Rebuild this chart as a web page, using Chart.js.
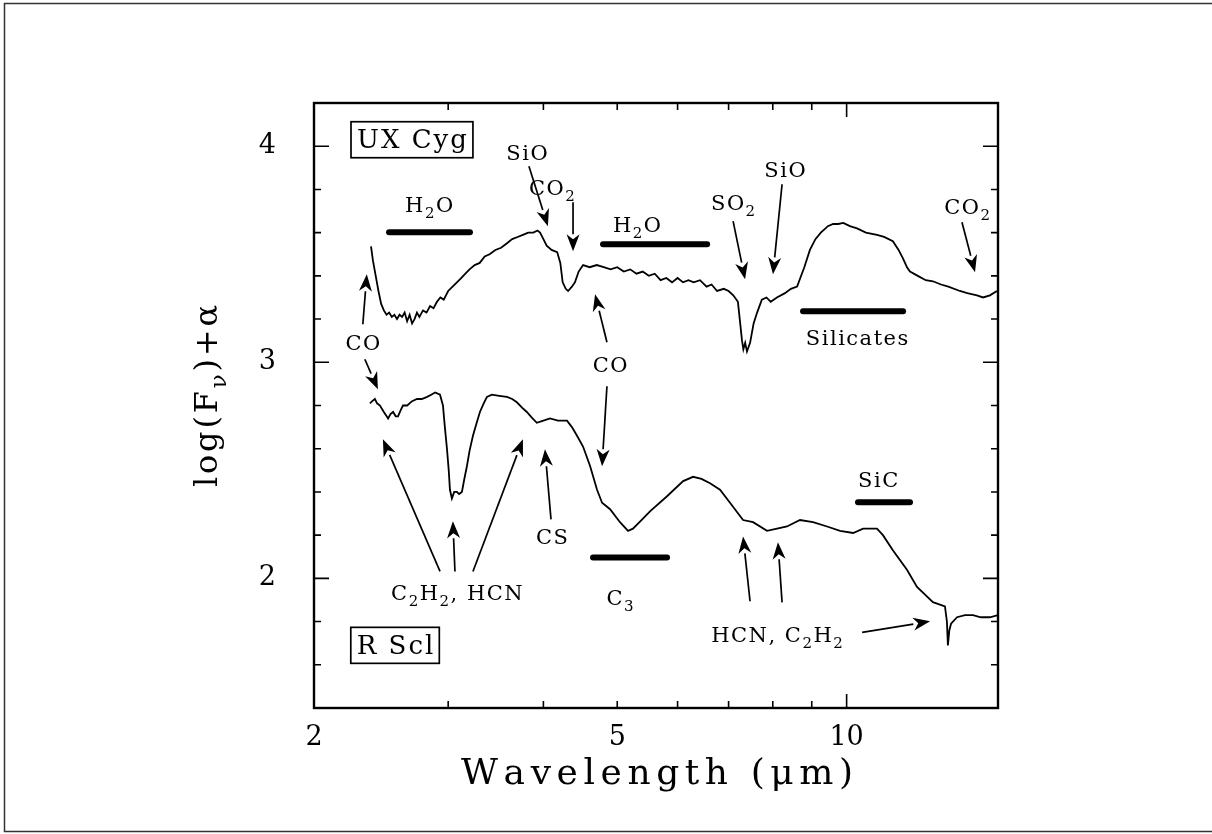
<!DOCTYPE html>
<html>
<head>
<meta charset="utf-8">
<title>UX Cyg / R Scl spectra</title>
<script src="https://cdn.jsdelivr.net/npm/chart.js@4.4.1/dist/chart.umd.min.js"></script>
<style>
  html, body { margin: 0; padding: 0; background: #fff; }
  #wrap { width: 1212px; height: 834px; }
</style>
</head>
<body>
<div id="wrap"><canvas id="spectra" width="1212" height="834"></canvas></div>
<script>
// UX Cyg (upper spectrum): wavelength (um) and log(F_nu)+alpha
const uxWave = [2.376, 2.39, 2.41, 2.43, 2.45, 2.47, 2.49, 2.51, 2.53, 2.55, 2.57, 2.59, 2.61, 2.63, 2.65,
  2.67, 2.69, 2.71, 2.73, 2.75, 2.78, 2.81, 2.84, 2.87, 2.90, 2.93, 2.96, 3.00, 3.04, 3.08, 3.12, 3.16,
  3.20, 3.25, 3.30, 3.35, 3.40, 3.46, 3.52, 3.58, 3.64, 3.70, 3.76, 3.82, 3.88, 3.93, 3.96, 4.00, 4.04,
  4.10, 4.17, 4.21, 4.24, 4.28, 4.31, 4.36, 4.40, 4.45, 4.51, 4.60, 4.70, 4.80, 4.90, 5.00, 5.10, 5.20,
  5.30, 5.40, 5.50, 5.60, 5.70, 5.80, 5.90, 6.00, 6.10, 6.20, 6.30, 6.42, 6.55, 6.65, 6.76, 6.90, 7.00,
  7.10, 7.20, 7.25, 7.29, 7.32, 7.36, 7.40, 7.47, 7.55, 7.63, 7.74, 7.85, 7.95, 8.10, 8.30, 8.45, 8.61,
  8.80, 8.95, 9.10, 9.25, 9.45, 9.60, 9.75, 9.90, 10.10, 10.32, 10.60, 10.96, 11.20, 11.50, 11.70,
  11.86, 12.00, 12.11, 12.40, 12.70, 12.98, 13.30, 13.60, 14.08, 14.40, 14.83, 15.10, 15.42, 15.75];
const uxFlux = [3.537, 3.47, 3.40, 3.33, 3.27, 3.24, 3.22, 3.23, 3.21, 3.22, 3.20, 3.22, 3.21, 3.23, 3.19,
  3.22, 3.18, 3.20, 3.23, 3.21, 3.24, 3.23, 3.26, 3.25, 3.28, 3.30, 3.29, 3.33, 3.35, 3.37, 3.39, 3.41,
  3.43, 3.45, 3.46, 3.49, 3.50, 3.52, 3.53, 3.55, 3.57, 3.58, 3.59, 3.60, 3.60, 3.61, 3.60, 3.57, 3.54,
  3.52, 3.51, 3.46, 3.37, 3.34, 3.33, 3.35, 3.37, 3.42, 3.45, 3.44, 3.45, 3.44, 3.43, 3.44, 3.42, 3.43,
  3.41, 3.42, 3.40, 3.41, 3.38, 3.39, 3.37, 3.39, 3.37, 3.38, 3.37, 3.38, 3.35, 3.36, 3.33, 3.34, 3.33,
  3.31, 3.28, 3.18, 3.10, 3.06, 3.09, 3.05, 3.09, 3.18, 3.23, 3.29, 3.30, 3.28, 3.30, 3.32, 3.34, 3.35,
  3.44, 3.52, 3.57, 3.60, 3.63, 3.64, 3.64, 3.645, 3.63, 3.62, 3.60, 3.59, 3.58, 3.56, 3.52,
  3.48, 3.44, 3.42, 3.40, 3.38, 3.375, 3.36, 3.35, 3.33, 3.32, 3.31, 3.30, 3.31, 3.33];

// R Scl (lower spectrum)
const rsWave = [2.368, 2.385, 2.404, 2.42, 2.441, 2.47, 2.502, 2.52, 2.540, 2.56, 2.578, 2.60, 2.617,
  2.65, 2.69, 2.730, 2.77, 2.815, 2.85, 2.884, 2.927, 2.953, 2.97, 2.989, 3.005, 3.016, 3.034, 3.055,
  3.080, 3.10, 3.127, 3.15, 3.175, 3.20, 3.233, 3.27, 3.302, 3.34, 3.373, 3.424, 3.50, 3.583, 3.64,
  3.692, 3.75, 3.805, 3.86, 3.921, 4.00, 4.081, 4.18, 4.296, 4.36, 4.428, 4.509, 4.606, 4.704, 4.776,
  4.893, 5.042, 5.166, 5.243, 5.38, 5.520, 5.812, 6.102, 6.288, 6.45, 6.618, 6.821, 7.030, 7.313,
  7.538, 7.862, 8.103, 8.351, 8.686, 9.035, 9.427, 9.804, 10.20, 10.51, 10.96, 11.16, 11.50, 12.00,
  12.37, 12.98, 13.46, 13.54, 13.58, 13.64, 13.71, 13.96, 14.30, 14.65, 15.00, 15.42, 15.80];
const rsFlux = [2.81, 2.82, 2.83, 2.81, 2.80, 2.77, 2.74, 2.76, 2.77, 2.75, 2.75, 2.78, 2.80,
  2.80, 2.82, 2.83, 2.83, 2.84, 2.85, 2.86, 2.85, 2.80, 2.70, 2.60, 2.50, 2.41, 2.37, 2.40,
  2.40, 2.39, 2.40, 2.46, 2.52, 2.59, 2.66, 2.72, 2.77, 2.81, 2.84, 2.85, 2.845, 2.84, 2.83,
  2.815, 2.79, 2.77, 2.745, 2.72, 2.73, 2.74, 2.73, 2.73, 2.70, 2.66, 2.61, 2.52, 2.41, 2.35,
  2.32, 2.26, 2.22, 2.23, 2.27, 2.31, 2.38, 2.45, 2.47, 2.46, 2.44, 2.41, 2.35, 2.27,
  2.26, 2.22, 2.23, 2.24, 2.27, 2.26, 2.24, 2.22, 2.21, 2.23, 2.23, 2.20, 2.13, 2.04,
  1.96, 1.89, 1.87, 1.80, 1.69, 1.76, 1.79, 1.82, 1.83, 1.83, 1.82, 1.82, 1.83];

// axis ticks
const xTickLabels = [2, 5, 10];
const xMinorTicks = [3, 4, 5, 6, 7, 8, 9, 10];
const yTickLabels = [2, 3, 4];
const yMinorTicks = [1.6, 1.8, 2.0, 2.2, 2.4, 2.6, 2.8, 3.0, 3.2, 3.4, 3.6, 3.8, 4.0];

// annotations, in data units: [text, wavelength, flux]
const labels = [
  ['H_2O', 2.832, 3.731], ['SiO', 3.806, 3.972], ['CO_2', 4.104, 3.810], ['H_2O', 5.307, 3.639],
  ['SO_2', 7.096, 3.741], ['SiO', 8.300, 3.894], ['CO_2', 14.39, 3.722], ['Silicates', 10.32, 3.116],
  ['CO', 2.318, 3.093], ['CO', 4.893, 2.991], ['C_2H_2, HCN', 3.080, 1.935], ['CS', 4.104, 2.194],
  ['C_3', 5.042, 1.912], ['SiC', 11.00, 2.458], ['HCN, C_2H_2', 8.103, 1.741]
];
const boxes = [['UX Cyg', 2.689, 4.030], ['R Scl', 2.555, 1.690]];
// [from wavelength, to wavelength, flux]
const bands = [
  [2.509, 3.204, 3.602], [4.790, 6.560, 3.546], [8.766, 11.86, 3.236],
  [4.648, 5.812, 2.097], [10.35, 12.11, 2.352]
];
// [x1, y1, x2 (head), y2 (head)]
const arrows = [
  [3.829, 3.907, 4.055, 3.630], [4.375, 3.741, 4.375, 3.514], [7.096, 3.653, 7.357, 3.384],
  [8.228, 3.824, 8.005, 3.407], [14.17, 3.648, 14.74, 3.417], [2.318, 3.176, 2.346, 3.407],
  [2.332, 3.014, 2.426, 2.875], [4.847, 3.093, 4.676, 3.315], [4.847, 2.889, 4.776, 2.519],
  [2.927, 2.032, 2.463, 2.644], [3.062, 2.032, 3.043, 2.264], [3.233, 2.032, 3.760, 2.644],
  [4.093, 2.273, 4.019, 2.597], [7.469, 1.894, 7.313, 2.194], [8.228, 1.889, 8.126, 2.167],
  [10.48, 1.750, 12.87, 1.801]
];

const FONT = '"DejaVu Serif", "Liberation Serif", serif';

// text with "_x" subscripts, centred on (x, y)
function drawRich(ctx, str, x, y, size, spacing) {
  const segs = [];
  for (let i = 0; i < str.length; i++) {
    if (str[i] === '_') { segs.push({ t: str[i + 1], sub: true }); i++; }
    else segs.push({ t: str[i], sub: false });
  }
  const mainFont = size + 'px ' + FONT;
  const subFont = Math.round(size * 0.72) + 'px ' + FONT;
  let w = 0;
  segs.forEach(s => {
    ctx.font = s.sub ? subFont : mainFont;
    s.w = ctx.measureText(s.t).width;
    w += s.w + spacing;
  });
  w -= spacing;
  let cx = x - w / 2;
  ctx.textAlign = 'left';
  ctx.textBaseline = 'alphabetic';
  segs.forEach(s => {
    ctx.font = s.sub ? subFont : mainFont;
    ctx.fillText(s.t, cx, y + size * 0.36 + (s.sub ? size * 0.3 : 0));
    cx += s.w + spacing;
  });
  return w;
}

function measureRich(ctx, str, size) {
  let w = 0;
  for (let i = 0; i < str.length; i++) {
    if (str[i] === '_') {
      ctx.font = Math.round(size * 0.72) + 'px ' + FONT;
      w += ctx.measureText(str[i + 1]).width; i++;
    } else {
      ctx.font = size + 'px ' + FONT;
      w += ctx.measureText(str[i]).width;
    }
  }
  return w;
}

// letter spacing that makes a string span a given width
function fitSpacing(ctx, str, size, target) {
  const n = str.replace(/_/g, '').length;
  return (target - measureRich(ctx, str, size)) / (n - 1);
}

function drawArrow(ctx, x1, y1, x2, y2) {
  const ang = Math.atan2(y2 - y1, x2 - x1);
  const len = 17, half = 6.5;
  const bx = x2 - len * Math.cos(ang), by = y2 - len * Math.sin(ang);
  ctx.beginPath();
  ctx.moveTo(x1, y1);
  ctx.lineTo(bx, by);
  ctx.stroke();
  ctx.beginPath();
  ctx.moveTo(x2, y2);
  ctx.lineTo(bx + half * Math.sin(ang), by - half * Math.cos(ang));
  ctx.lineTo(bx + 5 * Math.cos(ang), by + 5 * Math.sin(ang));
  ctx.lineTo(bx - half * Math.sin(ang), by + half * Math.cos(ang));
  ctx.closePath();
  ctx.fill();
}

const decor = {
  id: 'decor',
  afterDraw(chart) {
    const ctx = chart.ctx;
    const xs = chart.scales.x, ys = chart.scales.y;
    const a = chart.chartArea;
    ctx.save();
    ctx.fillStyle = '#000';

    // outer figure border (left, top, bottom)
    ctx.strokeStyle = '#333';
    ctx.lineWidth = 1.5;
    ctx.beginPath();
    ctx.moveTo(1212, 3.5); ctx.lineTo(4.5, 3.5); ctx.lineTo(4.5, 831.5); ctx.lineTo(1212, 831.5);
    ctx.stroke();
    ctx.strokeStyle = '#000';

    // plot frame
    ctx.lineWidth = 2.4;
    ctx.strokeRect(a.left, a.top, a.right - a.left, a.bottom - a.top);

    // inward ticks
    ctx.lineWidth = 1.6;
    ctx.beginPath();
    yMinorTicks.forEach(v => {
      const py = ys.getPixelForValue(v);
      const len = Math.abs(v - Math.round(v)) < 1e-6 ? 15 : 7;
      ctx.moveTo(a.left, py); ctx.lineTo(a.left + len, py);
      ctx.moveTo(a.right, py); ctx.lineTo(a.right - len, py);
    });
    xMinorTicks.forEach(v => {
      const px = xs.getPixelForValue(v);
      const len = v === 10 ? 14 : 7;
      ctx.moveTo(px, a.bottom); ctx.lineTo(px, a.bottom - len);
      ctx.moveTo(px, a.top); ctx.lineTo(px, a.top + len);
    });
    ctx.stroke();

    // axis titles
    const tx = 'Wavelength (\u03bcm)';
    drawRich(ctx, tx, (a.left + a.right) / 2 + 1, 771, 36, fitSpacing(ctx, tx, 36, 392));
    ctx.save();
    ctx.translate(205, 396);
    ctx.rotate(-Math.PI / 2);
    const ty = 'log(F_\u03bd)+\u03b1';
    drawRich(ctx, ty, 0, 0, 32, fitSpacing(ctx, ty, 32, 182));
    ctx.restore();

    // absorption bands
    ctx.lineWidth = 6;
    ctx.lineCap = 'round';
    bands.forEach(b => {
      const py = ys.getPixelForValue(b[2]);
      ctx.beginPath();
      ctx.moveTo(xs.getPixelForValue(b[0]), py);
      ctx.lineTo(xs.getPixelForValue(b[1]), py);
      ctx.stroke();
    });
    ctx.lineCap = 'butt';

    // arrows
    ctx.lineWidth = 1.7;
    arrows.forEach(r => {
      drawArrow(ctx, xs.getPixelForValue(r[0]), ys.getPixelForValue(r[1]),
        xs.getPixelForValue(r[2]), ys.getPixelForValue(r[3]));
    });

    // molecule labels
    labels.forEach(l => {
      drawRich(ctx, l[0], xs.getPixelForValue(l[1]), ys.getPixelForValue(l[2]), 21, 1.5);
    });

    // star name boxes
    ctx.lineWidth = 1.7;
    boxes.forEach(b => {
      const px = xs.getPixelForValue(b[1]), py = ys.getPixelForValue(b[2]);
      const w = drawRich(ctx, b[0], px, py - 1, 26, 2);
      ctx.strokeRect(px - w / 2 - 6, py - 18, w + 12, 36);
    });
    ctx.restore();
  }
};

new Chart(document.getElementById('spectra'), {
  type: 'scatter',
  data: {
    datasets: [
      {
        label: 'UX Cyg',
        data: uxWave.map((w, i) => ({ x: w, y: uxFlux[i] })),
        showLine: true, borderColor: '#000', borderWidth: 1.8, pointRadius: 0, tension: 0
      },
      {
        label: 'R Scl',
        data: rsWave.map((w, i) => ({ x: w, y: rsFlux[i] })),
        showLine: true, borderColor: '#000', borderWidth: 1.8, pointRadius: 0, tension: 0
      }
    ]
  },
  options: {
    responsive: false,
    animation: false,
    layout: { padding: { top: 103, right: 214, bottom: 0, left: 0 } },
    plugins: { legend: { display: false }, tooltip: { enabled: false } },
    scales: {
      x: {
        type: 'logarithmic',
        min: 2, max: 15.8,
        afterBuildTicks: s => { s.ticks = xTickLabels.map(v => ({ value: v })); },
        afterFit: s => { s.height = 126; },
        grid: { display: false, drawTicks: false },
        border: { display: false },
        ticks: {
          color: '#000', padding: 14, maxRotation: 0, autoSkip: false,
          font: { family: FONT, size: 27 },
          callback: v => String(v)
        }
      },
      y: {
        min: 1.4, max: 4.2,
        afterBuildTicks: s => { s.ticks = yTickLabels.map(v => ({ value: v })); },
        afterFit: s => { s.width = 314; },
        grid: { display: false, drawTicks: false },
        border: { display: false },
        ticks: {
          color: '#000', padding: 38,
          font: { family: FONT, size: 27 },
          callback: v => String(v)
        }
      }
    }
  },
  plugins: [decor]
});
</script>
</body>
</html>
